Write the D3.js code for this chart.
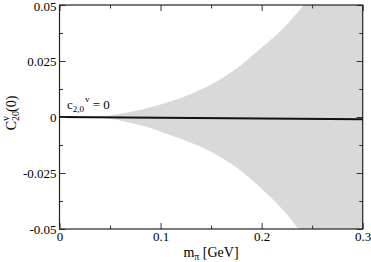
<!DOCTYPE html>
<html><head><meta charset="utf-8">
<script src="https://cdn.jsdelivr.net/npm/d3@7"></script>
<style>body{margin:0;background:#fff}svg{display:block}text{font-family:"Liberation Serif","Times New Roman",serif;fill:#000}</style>
</head><body>
<script>
// Data
const xTicks = [0, 0.1, 0.2, 0.3];
const xTickLabels = ["0", "0.1", "0.2", "0.3"];
const xMinor = [0.05, 0.15, 0.25];
const yTicks = [0.05, 0.025, 0, -0.025, -0.05];
const yTickLabels = ["0.05", "0.025", "0", "-0.025", "-0.05"];
const yMinor = [0.0375, 0.0125, -0.0125, -0.0375];
const bandM     = [0.03, 0.05, 0.07, 0.09, 0.11, 0.13, 0.15, 0.175, 0.2, 0.22, 0.24, 0.26, 0.3];
const bandUpper = [0, 0.0007, 0.0022, 0.0043, 0.007, 0.0103, 0.0145, 0.0215, 0.031, 0.039, 0.049, 0.059, 0.08];
const bandLower = [0, -0.0008, -0.0026, -0.0049, -0.0082, -0.0115, -0.0155, -0.0225, -0.032, -0.041, -0.052, -0.063, -0.086];
const lineM = [0, 0.3];
const lineC = [0, -0.001];

const W = 371, H = 262;
const m = {left: 59.5, right: 8.3, top: 5, bottom: 33};
const svg = d3.select("body").append("svg").attr("width", W).attr("height", H);
const x = d3.scaleLinear().domain([0, 0.3]).range([m.left, W - m.right]);
const y = d3.scaleLinear().domain([-0.05, 0.05]).range([H - m.bottom, m.top]);

svg.append("clipPath").attr("id", "clip").append("rect")
  .attr("x", x(0)).attr("y", y(0.05)).attr("width", x(0.3) - x(0)).attr("height", y(-0.05) - y(0.05));

const band = bandM.map((d, i) => ({m: d, u: bandUpper[i], l: bandLower[i]}));
svg.append("path").datum(band).attr("clip-path", "url(#clip)")
  .attr("fill", "#d9d9d9")
  .attr("d", d3.area().x(d => x(d.m)).y0(d => y(d.l)).y1(d => y(d.u)).curve(d3.curveCatmullRom));

const line = lineM.map((d, i) => ({m: d, c: lineC[i]}));
svg.append("path").datum(line).attr("fill", "none").attr("stroke", "#111").attr("stroke-width", 2)
  .attr("d", d3.line().x(d => x(d.m)).y(d => y(d.c)));

// axes
const fs = 13;
const gx = svg.append("g").attr("transform", `translate(0,${y(-0.05)})`)
  .call(d3.axisBottom(x).tickValues(xTicks).tickFormat((d, i) => xTickLabels[i]).tickSizeInner(-6).tickSizeOuter(0).tickPadding(3));
const gxm = svg.append("g").attr("transform", `translate(0,${y(-0.05)})`)
  .call(d3.axisBottom(x).tickValues(xMinor).tickFormat("").tickSizeInner(-3.5).tickSizeOuter(0));
const gxt = svg.append("g").attr("transform", `translate(0,${y(0.05)})`)
  .call(d3.axisTop(x).tickValues(xTicks).tickFormat("").tickSizeInner(-6).tickSizeOuter(0));
const gxtm = svg.append("g").attr("transform", `translate(0,${y(0.05)})`)
  .call(d3.axisTop(x).tickValues(xMinor).tickFormat("").tickSizeInner(-3.5).tickSizeOuter(0));
const gy = svg.append("g").attr("transform", `translate(${x(0)},0)`)
  .call(d3.axisLeft(y).tickValues(yTicks).tickFormat((d, i) => yTickLabels[i]).tickSizeInner(-6).tickSizeOuter(0).tickPadding(3));
const gym = svg.append("g").attr("transform", `translate(${x(0)},0)`)
  .call(d3.axisLeft(y).tickValues(yMinor).tickFormat("").tickSizeInner(-3.5).tickSizeOuter(0));
const gyr = svg.append("g").attr("transform", `translate(${x(0.3)},0)`)
  .call(d3.axisRight(y).tickValues(yTicks).tickFormat("").tickSizeInner(-6).tickSizeOuter(0));
const gyrm = svg.append("g").attr("transform", `translate(${x(0.3)},0)`)
  .call(d3.axisRight(y).tickValues(yMinor).tickFormat("").tickSizeInner(-3.5).tickSizeOuter(0));
[gx, gxm, gxt, gxtm, gy, gym, gyr, gyrm].forEach(g => {
  g.select(".domain").remove();
  g.selectAll(".tick line").attr("stroke", "#333").attr("stroke-width", 1);
  g.selectAll("text").attr("font-size", fs).attr("font-family", '"Liberation Serif",serif').attr("fill", "#000");
});
gy.selectAll(".tick text").filter((d, i) => i === 0).attr("dy", "0.42em");

svg.append("rect").attr("x", x(0)).attr("y", y(0.05)).attr("width", x(0.3) - x(0)).attr("height", y(-0.05) - y(0.05))
  .attr("fill", "none").attr("stroke", "#222").attr("stroke-width", 1.2);

// x title
const xt = svg.append("text").attr("x", 211).attr("y", 257).attr("text-anchor", "middle").attr("font-size", 14);
xt.append("tspan").text("m");
xt.append("tspan").attr("font-size", 10).attr("dy", 3).text("π");
xt.append("tspan").attr("dy", -3).text(" [GeV]");

// y title
const yt = svg.append("text").attr("transform", `translate(16,113) rotate(-90)`).attr("text-anchor", "middle").attr("font-size", 14);
yt.append("tspan").text("C");
yt.append("tspan").attr("font-size", 10).attr("dy", 3).text("20");
yt.append("tspan").attr("font-size", 10).attr("dx", -10).attr("dy", -10).text("v");
yt.append("tspan").attr("dy", 7).attr("dx", 4).text("(0)");

// annotation
const an = svg.append("text").attr("x", 67).attr("y", 109).attr("font-size", 13);
an.append("tspan").text("c");
an.append("tspan").attr("font-size", 9).attr("dy", 3).text("2,0");
an.append("tspan").attr("font-size", 9).attr("dx", 1).attr("dy", -10).text("v");
an.append("tspan").attr("dy", 7).text(" = 0");
</script>
</body></html>
